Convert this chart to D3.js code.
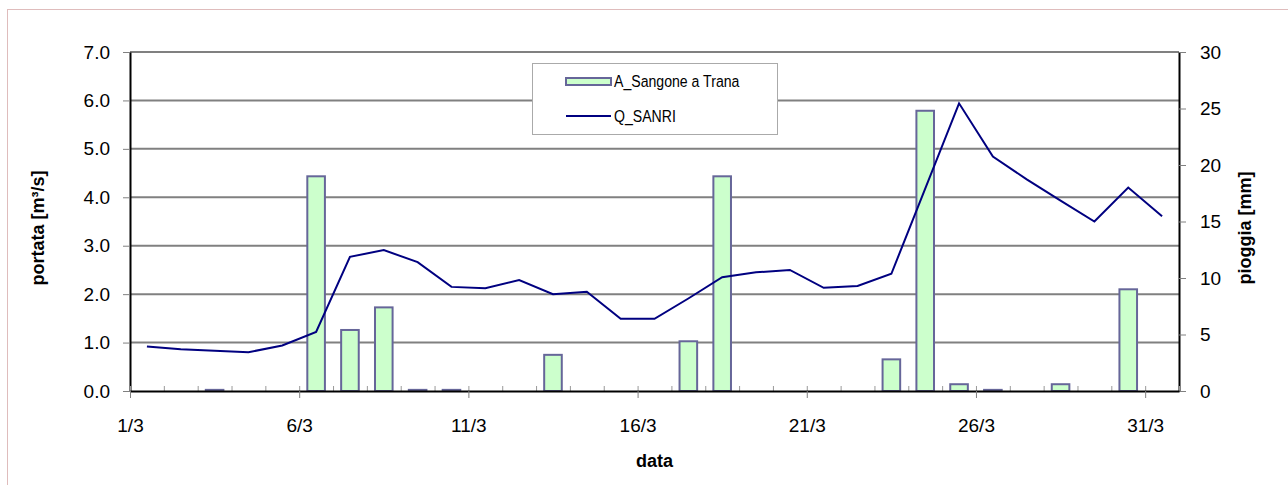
<!DOCTYPE html>
<html>
<head>
<meta charset="utf-8">
<script src="https://cdn.jsdelivr.net/npm/d3@7"></script>
<style>
  body { margin: 0; background: #fff; }
  svg { display: block; font-family: "Liberation Sans", Arial, sans-serif; }
</style>
</head>
<body>
<svg width="1288" height="485"></svg>
<script>
// days of March, values read at noon of each day
const days = d3.range(1, 32);
// Q_SANRI discharge [m3/s]
const flow = [0.92, 0.86, 0.83, 0.80, 0.94, 1.22, 2.77, 2.91, 2.66, 2.15,
  2.12, 2.29, 2.00, 2.05, 1.49, 1.49, 1.91, 2.35, 2.45, 2.50,
  2.13, 2.17, 2.42, 4.18, 5.94, 4.84, 4.37, 3.93, 3.50, 4.20, 3.61];
// A_Sangone a Trana rainfall [mm]
const rain = [0, 0, 0.1, 0, 0, 19.0, 5.4, 7.4, 0.1, 0.1,
  0, 0, 3.2, 0, 0, 0, 4.4, 19.0, 0, 0,
  0, 0, 2.8, 24.8, 0.6, 0.1, 0, 0.6, 0, 9.0, 0];
const flowTicks = d3.range(0, 8);
const rainTicks = d3.range(0, 31, 5);
const majorDays = [1, 6, 11, 16, 21, 26, 31];

const svg = d3.select("svg");

// outer frame
svg.append("rect")
  .attr("x", 7.5).attr("y", 9.5)
  .attr("width", 1300).attr("height", 500)
  .attr("fill", "none")
  .attr("stroke", "#dfbcbc");

const plotL = 130, plotR = 1179, plotT = 52, plotB = 391;

const day = d => new Date(Date.UTC(2009, 2, d));
const noon = d => new Date(Date.UTC(2009, 2, d, 12));

const x = d3.scaleUtc().domain([day(1), day(32)]).range([plotL, plotR]);
const yL = d3.scaleLinear().domain([0, 7]).range([plotB, plotT]);
const yR = d3.scaleLinear().domain([0, 30]).range([plotB, plotT]);

// gridlines
svg.append("g")
  .selectAll("line")
  .data(flowTicks.slice(1))
  .join("line")
  .attr("x1", plotL).attr("x2", plotR)
  .attr("y1", d => yL(d)).attr("y2", d => yL(d))
  .attr("stroke", "#808080")
  .attr("stroke-width", 2);

// rain bars
const barW = x(noon(1)) - x(day(1));
svg.append("g")
  .selectAll("rect")
  .data(days.map((d, i) => ({ d, v: rain[i] })).filter(e => e.v > 0))
  .join("rect")
  .attr("x", e => x(noon(e.d)) - barW * 0.52)
  .attr("width", barW * 1.04)
  .attr("y", e => yR(e.v))
  .attr("height", e => yR(0) - yR(e.v))
  .attr("fill", "#ccffcc")
  .attr("stroke", "#666699")
  .attr("stroke-width", 2);

// flow line
const line = d3.line()
  .x((d, i) => x(noon(days[i])))
  .y(d => yL(d));
svg.append("path")
  .datum(flow)
  .attr("d", line)
  .attr("fill", "none")
  .attr("stroke", "#000080")
  .attr("stroke-width", 2);

// axes
const styleAxis = g => {
  g.selectAll(".domain").attr("stroke", "#000").attr("stroke-width", 2);
  g.selectAll(".tick line").attr("stroke", "#808080");
  g.selectAll(".tick text").attr("fill", "#000").attr("font-size", 19);
  g.attr("font-family", null);
};

svg.append("g")
  .attr("transform", `translate(${plotL},0)`)
  .call(d3.axisLeft(yL).tickValues(flowTicks).tickFormat(d3.format(".1f"))
    .tickSize(7).tickSizeOuter(0).tickPadding(13))
  .call(styleAxis);

svg.append("g")
  .attr("transform", `translate(${plotR},0)`)
  .call(d3.axisRight(yR).tickValues(rainTicks)
    .tickSize(7).tickSizeOuter(0).tickPadding(14))
  .call(styleAxis);

// minor day ticks pointing up inside the plot
svg.append("g")
  .attr("transform", `translate(0,${plotB})`)
  .call(d3.axisTop(x).tickValues(d3.range(1, 33).map(day)).tickFormat("")
    .tickSize(5).tickSizeOuter(0))
  .call(g => g.select(".domain").remove())
  .call(g => g.selectAll(".tick line").attr("stroke", "#999"));

svg.append("g")
  .attr("transform", `translate(0,${plotB})`)
  .call(d3.axisBottom(x).tickValues(majorDays.map(day))
    .tickFormat(d => `${d.getUTCDate()}/${d.getUTCMonth() + 1}`)
    .tickSize(7).tickSizeOuter(0).tickPadding(21))
  .call(styleAxis);

// axis titles
svg.append("text")
  .attr("transform", "translate(38,228) rotate(-90)")
  .attr("text-anchor", "middle")
  .attr("dy", "0.35em")
  .attr("font-size", 18).attr("font-weight", "bold")
  .text("portata [m³/s]");

svg.append("text")
  .attr("transform", "translate(1245,228) rotate(-90)")
  .attr("text-anchor", "middle")
  .attr("dy", "0.35em")
  .attr("font-size", 18).attr("font-weight", "bold")
  .text("pioggia [mm]");

svg.append("text")
  .attr("x", (plotL + plotR) / 2).attr("y", 467)
  .attr("text-anchor", "middle")
  .attr("font-size", 18).attr("font-weight", "bold")
  .text("data");

// legend
const lg = svg.append("g");
lg.append("rect")
  .attr("x", 532.5).attr("y", 63.5)
  .attr("width", 245).attr("height", 71)
  .attr("fill", "#fff").attr("stroke", "#aaa");
lg.append("rect")
  .attr("x", 566).attr("y", 78)
  .attr("width", 45).attr("height", 7)
  .attr("fill", "#ccffcc").attr("stroke", "#666699").attr("stroke-width", 2);
lg.append("line")
  .attr("x1", 566).attr("x2", 611)
  .attr("y1", 116).attr("y2", 116)
  .attr("stroke", "#000080").attr("stroke-width", 2);
lg.selectAll("text.item")
  .data([["A_Sangone a Trana", 87], ["Q_SANRI", 122]])
  .join("text")
  .attr("class", "item")
  .attr("transform", d => `translate(614,${d[1]}) scale(0.83,1)`)
  .attr("font-size", 17)
  .text(d => d[0]);
</script>
</body>
</html>
